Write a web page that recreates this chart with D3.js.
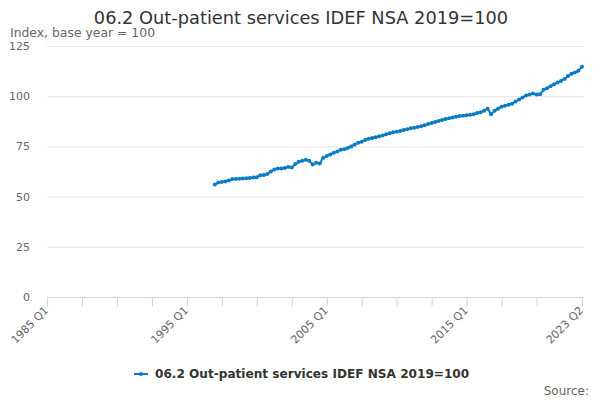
<!DOCTYPE html>
<html>
<head>
<meta charset="utf-8">
<script src="https://cdn.jsdelivr.net/npm/d3@7/dist/d3.min.js"></script>
<style>
  html, body { margin: 0; padding: 0; background: #fff; }
  svg { display: block; font-family: "DejaVu Sans", sans-serif; }
</style>
</head>
<body>
<svg id="chart" width="600" height="400"></svg>
<script>
// Quarters from 1985 Q1 to 2023 Q2
const startYear = 1985;
const quarterCount = 154;
const quarters = d3.range(quarterCount).map(i => (startYear + Math.floor(i / 4)) + " Q" + (i % 4 + 1));

// Series: first observation is 1997 Q1
const firstQuarter = "1997 Q1";
const values = [
  56.0, 57.0, 57.3, 57.5, 58.0, 58.8, 58.8, 58.9, 59.0, 59.2, 59.3, 59.5,
  59.6, 60.6, 60.8, 61.2, 62.5, 63.5, 64.0, 64.0, 64.3, 64.8, 64.5, 66.2,
  67.3, 67.8, 68.3, 67.8, 66.0, 66.8, 66.5, 69.3,
  70.2, 71.0, 71.8, 72.5, 73.3, 73.6, 74.2, 74.9, 76.0, 76.8, 77.3, 78.2,
  78.8, 79.2, 79.6, 80.0, 80.4, 81.0, 81.5, 82.0,
  82.3, 82.7, 83.2, 83.6, 84.0, 84.3, 84.6, 85.0, 85.5, 86.1, 86.7, 87.2,
  87.7, 88.2, 88.6, 89.0, 89.4, 89.8, 90.1, 90.3,
  90.5, 90.7, 91.0, 91.6, 92.0, 92.8, 93.8, 91.0, 92.7, 93.8, 94.8, 95.3,
  95.7, 96.3, 97.3, 98.3, 99.3, 100.3, 100.8, 101.3, 100.8, 101.0, 103.2, 104.0,
  105.0, 106.0, 106.8, 107.6, 108.6, 110.0, 111.2, 111.8, 112.7, 114.7
];

const yTicks = [0, 25, 50, 75, 100, 125];
const xLabelQuarters = ["1985 Q1", "1995 Q1", "2005 Q1", "2015 Q1", "2023 Q2"];
const xTickQuarters = ["1985 Q1","1987 Q3","1990 Q1","1992 Q3","1995 Q1","1997 Q3","2000 Q1","2002 Q3",
  "2005 Q1","2007 Q3","2010 Q1","2012 Q3","2015 Q1","2017 Q3","2020 Q1","2023 Q2"];

const titleText = "06.2 Out-patient services IDEF NSA 2019=100";
const subtitleText = "Index, base year = 100";
const seriesName = "06.2 Out-patient services IDEF NSA 2019=100";
const sourceText = "Source:";

const color = "#0a7bc4";
const svg = d3.select("#chart");

const x = d3.scaleLinear().domain([0, quarterCount - 1]).range([47, 582]);
const y = d3.scaleLinear().domain([0, 125]).range([297, 46]);
const qIndex = q => quarters.indexOf(q);
const start = qIndex(firstQuarter);
const data = values.map((v, i) => ({ i: start + i, v }));

// Title
svg.append("text").attr("x", 301).attr("y", 24).attr("text-anchor", "middle")
  .attr("font-size", 17.8).attr("fill", "#333").text(titleText);
svg.append("text").attr("x", 10).attr("y", 37)
  .attr("font-size", 12.4).attr("fill", "#666").text(subtitleText);

// Grid
const grid = svg.append("g");
grid.selectAll("line").data(yTicks.filter(d => d > 0)).join("line")
  .attr("x1", 47).attr("x2", 584)
  .attr("y1", d => y(d) + 0.5).attr("y2", d => y(d) + 0.5)
  .attr("stroke", "#e6e6e6").attr("stroke-width", 1);

// Y axis labels
const yAxis = d3.axisLeft(y).tickValues(yTicks).tickSize(0).tickPadding(0);
const yg = svg.append("g").attr("transform", "translate(30,0)").call(yAxis);
yg.select(".domain").remove();
yg.selectAll("text").attr("font-size", 11).attr("fill", "#666")
  .attr("font-family", "DejaVu Sans, sans-serif");

// X axis
const xAxis = d3.axisBottom(x).tickValues(xTickQuarters.map(qIndex)).tickSize(9).tickFormat("");
const xg = svg.append("g").attr("transform", "translate(0,297.5)").call(xAxis);
xg.select(".domain").attr("stroke", "#ccd6eb").attr("d", "M47,0H584");
xg.selectAll(".tick line").attr("stroke", "#ccd6eb");

const xl = svg.append("g");
xl.selectAll("text").data(xLabelQuarters).join("text")
  .attr("transform", d => `translate(${x(qIndex(d)) + 2},${311}) rotate(-45)`)
  .attr("text-anchor", "end").attr("font-size", 11).attr("fill", "#666")
  .text(d => d);

// Line
const line = d3.line().x(d => x(d.i)).y(d => y(d.v));
svg.append("path").datum(data).attr("d", line)
  .attr("fill", "none").attr("stroke", color).attr("stroke-width", 2)
  .attr("stroke-linejoin", "round");
svg.append("g").selectAll("circle").data(data).join("circle")
  .attr("cx", d => x(d.i)).attr("cy", d => y(d.v)).attr("r", 2)
  .attr("fill", color);

// Legend
const lg = svg.append("g");
lg.append("line").attr("x1", 134).attr("x2", 148).attr("y1", 374).attr("y2", 374)
  .attr("stroke", color).attr("stroke-width", 2);
lg.append("circle").attr("cx", 141).attr("cy", 374).attr("r", 2).attr("fill", color);
lg.append("text").attr("x", 155).attr("y", 378).attr("font-size", 12.1)
  .attr("font-weight", "bold").attr("fill", "#333").text(seriesName);

svg.append("text").attr("x", 589).attr("y", 395).attr("text-anchor", "end")
  .attr("font-size", 12).attr("fill", "#666").text(sourceText);
</script>
</body>
</html>
